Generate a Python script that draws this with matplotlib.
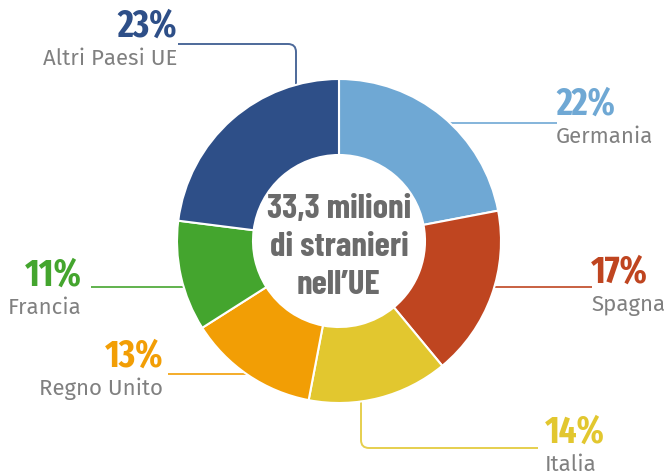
import matplotlib
matplotlib.use("Agg")
import matplotlib.pyplot as plt
from matplotlib.path import Path
from matplotlib.patches import PathPatch

countries = ["Germania", "Spagna", "Italia", "Regno Unito", "Francia", "Altri Paesi UE"]
shares = [22, 17, 14, 13, 11, 23]
colors = ["#6FA8D4", "#BF4520", "#E2C72F", "#F29E05", "#44A52E", "#2E4F88"]
center_lines = ["33,3 milioni", "di stranieri", "nell\u2019UE"]

W, H = 669, 475
narrow = ["Fira Sans Extra Condensed", "Barlow Condensed", "DejaVu Sans"]
center_font = ["Barlow Condensed", "DejaVu Sans"]
label_font = ["Fira Sans", "DejaVu Sans"]
gray = "#808080"


def py(y):
    # picture rows run downward, data y upward
    return H - y


fig = plt.figure(figsize=(W / 100, H / 100), dpi=100)
ax = fig.add_axes([0, 0, 1, 1])

ax.pie(
    shares, colors=colors, startangle=90, counterclock=False,
    radius=162, center=(339, py(241)),
    wedgeprops=dict(width=76, edgecolor="white", linewidth=1.5),
)
ax.set_xlim(0, W)
ax.set_ylim(0, H)
ax.set_aspect("equal")
ax.axis("off")

for i, line in enumerate(center_lines):
    ax.text(339, py(218 + i * 38), line, ha="center", va="baseline",
            fontsize=25, fontweight="bold", family=center_font, color="#6B6B6B")

# leader lines in picture pixels; inner ends hide behind the wedges
leaders = {
    "Germania": [(430, 123), (557, 123)],
    "Spagna": [(470, 287), (592, 287)],
    "Italia": [(361, 390), (361, 440), (361, 448), (369, 448), (538, 448)],
    "Regno Unito": [(260, 374), (168, 374)],
    "Francia": [(200, 287), (91, 287)],
    "Altri Paesi UE": [(296, 100), (296, 52), (296, 44), (288, 44), (178, 44)],
}
# text anchor: (x, pct baseline y, alignment)
anchors = {
    "Germania": (556, 115, "left"),
    "Spagna": (591, 283, "left"),
    "Italia": (545, 443, "left"),
    "Regno Unito": (163, 367, "right"),
    "Francia": (82, 286, "right"),
    "Altri Paesi UE": (177, 37, "right"),
}

for name, share, color in zip(countries, shares, colors):
    pts = leaders[name]
    if len(pts) == 2:
        codes = [Path.MOVETO, Path.LINETO]
    else:
        codes = [Path.MOVETO, Path.LINETO, Path.CURVE3, Path.CURVE3, Path.LINETO]
    path = Path([(x, py(y)) for x, y in pts], codes)
    ax.add_patch(PathPatch(path, fill=False, edgecolor=color, linewidth=1.4,
                           alpha=0.85, zorder=0.5))
    x, yb, ha = anchors[name]
    ax.text(x, py(yb), f"{share}%", ha=ha, va="baseline", fontsize=27,
            fontweight="bold", family=narrow, color=color)
    ax.text(x, py(yb + 28), name, ha=ha, va="baseline", fontsize=16,
            family=label_font, color=gray)

fig.savefig("out.png", dpi=100)
